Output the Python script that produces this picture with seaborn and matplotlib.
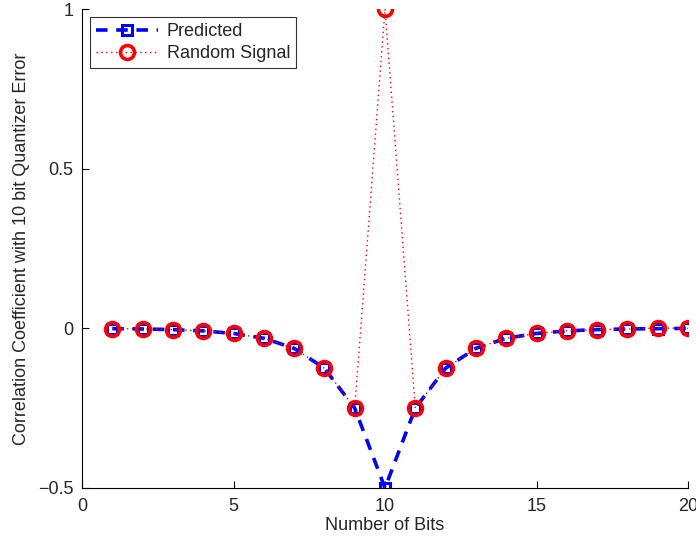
import matplotlib
matplotlib.use("Agg")
import matplotlib.pyplot as plt
import seaborn as sns
import numpy as np

bits = [1, 2, 3, 4, 5, 6, 7, 8, 9, 10, 11, 12, 13, 14, 15, 16, 17, 18, 19, 20]
predicted = [-0.001, -0.002, -0.004, -0.008, -0.016, -0.031, -0.0625, -0.125, -0.25, -0.5,
             -0.25, -0.125, -0.0625, -0.031, -0.016, -0.008, -0.004, -0.002, -0.001, 0.0]
random_signal = [-0.001, -0.002, -0.004, -0.008, -0.016, -0.031, -0.0625, -0.125, -0.25, 1.0,
                 -0.25, -0.125, -0.0625, -0.031, -0.016, -0.008, -0.004, -0.002, 0.001, 0.0]
xticks = [0, 5, 10, 15, 20]
yticks = [-0.5, 0, 0.5, 1]
ytick_labels = ["\u22120.5", "0", "0.5", "1"]

sns.set_style("white")
plt.rcParams['font.family'] = ['Liberation Sans', 'DejaVu Sans']
plt.rcParams['font.size'] = 13

fig = plt.figure(figsize=(6.96, 5.41), dpi=100)
ax = fig.add_axes([82/696, 53/541, (688-82)/696, (488-9)/541])

sns.lineplot(x=bits, y=predicted, ax=ax, color='#0000ff', linewidth=2.6,
             linestyle=(0, (3.2, 2.4)), marker='s', markersize=7.5,
             markerfacecolor='none', markeredgecolor='#0000ff', markeredgewidth=2.2,
             label='Predicted')
sns.lineplot(x=bits, y=random_signal, ax=ax, color='#ff0000', linewidth=1.0,
             linestyle=(0, (1, 2.5)), marker='o', markersize=10,
             markerfacecolor='none', markeredgecolor='#ff0000', markeredgewidth=2.6,
             label='Random Signal')

ax.set_xlim(0, 20)
ax.set_ylim(-0.5, 1)
ax.set_xticks(xticks)
ax.set_xticklabels([str(t) for t in xticks])
ax.set_yticks(yticks)
ax.set_yticklabels(ytick_labels)
ax.tick_params(direction='in', length=5, width=0.8, color='black', labelsize=13,
               bottom=True, left=True)
ax.tick_params(axis='x', pad=7)
ax.tick_params(axis='y', pad=6)
for side in ['top', 'right']:
    ax.spines[side].set_visible(False)
for side in ['left', 'bottom']:
    ax.spines[side].set_color('black')
    ax.spines[side].set_linewidth(0.8)
ax.set_xlabel('Number of Bits', fontsize=13, labelpad=2)
ax.set_ylabel('Correlation Coefficient with 10 bit Quantizer Error', fontsize=13, labelpad=6)

leg = ax.legend(loc='upper left', bbox_to_anchor=(0.013, 0.983), frameon=True, fancybox=False,
                edgecolor='black', fontsize=13, borderpad=0.35, handlelength=3.4,
                labelspacing=0.25, handletextpad=0.5, borderaxespad=0)
leg.get_frame().set_linewidth(0.8)

fig.savefig('out.png', dpi=100, facecolor='white')
